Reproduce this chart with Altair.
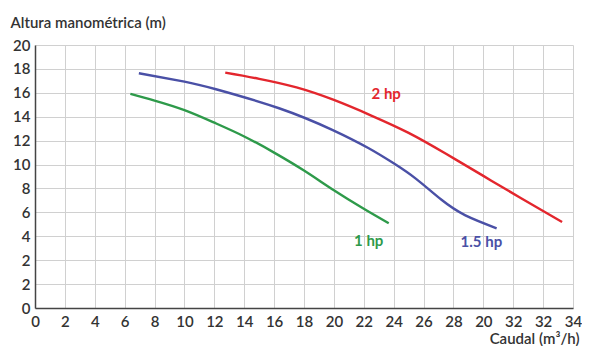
import altair as alt
import pandas as pd

# Curve data (x = caudal m3/h on the drawn scale, y = altura on the drawn scale)
x_1hp = [6.38, 8.0, 10.0, 12.0, 14.0, 16.0, 18.0, 20.0, 22.0, 23.67]
y_1hp = [17.91, 17.35, 16.55, 15.5, 14.35, 13.0, 11.5, 9.85, 8.3, 7.09]

x_15hp = [6.95, 10.0, 12.11, 16.33, 19.89, 22.33, 24.0, 25.5, 27.2, 28.8, 30.89]
y_15hp = [19.64, 18.94, 18.30, 16.71, 14.90, 13.36, 12.1, 10.8, 9.05, 7.75, 6.67]

x_2hp = [12.73, 15.0, 17.5, 20.0, 22.5, 25.0, 27.5, 30.0, 32.5, 35.27]
y_2hp = [19.69, 19.17, 18.45, 17.4, 16.1, 14.65, 12.9, 11.05, 9.2, 7.2]

series_names = ["1 hp", "1.5 hp", "2 hp"]
series_colors = ["#2e9a4a", "#4a50a6", "#e3262d"]

label_x = [22.33, 29.87, 23.5]
label_y = [5.6, 5.52, 17.9]

# Tick labels exactly as printed on the reference
x_tick_labels = ["0", "2", "4", "6", "8", "10", "12", "14", "16", "18", "20",
                 "22", "24", "26", "28", "20", "32", "32", "34"]
y_tick_labels = ["0", "2", "2", "4", "6", "8", "10", "12", "14", "16", "18", "20"]

rows = []
for name, xs, ys in zip(series_names, [x_1hp, x_15hp, x_2hp], [y_1hp, y_15hp, y_2hp]):
    for i, (xv, yv) in enumerate(zip(xs, ys)):
        rows.append({"serie": name, "x": xv, "y": yv, "order": i})
df = pd.DataFrame(rows)
lab = pd.DataFrame({"serie": series_names, "x": label_x, "y": label_y})

x_values = [2 * i for i in range(len(x_tick_labels))]
y_values = [2 * i for i in range(len(y_tick_labels))]
x_expr = "[" + ",".join("'%s'" % s for s in x_tick_labels) + "][datum.value/2]"
y_expr = "[" + ",".join("'%s'" % s for s in y_tick_labels) + "][datum.value/2]"

color = alt.Color("serie:N", scale=alt.Scale(domain=series_names, range=series_colors), legend=None)

x_enc = alt.X("x:Q", scale=alt.Scale(domain=[0, 36], nice=False),
              axis=alt.Axis(values=x_values, labelExpr=x_expr, title="Caudal (m³/h)",
                            labelOverlap=False, tickCount=len(x_values) + 1,
                            titleAnchor="end", titleAlign="right", titleX=544, titleY=30,
                            titleBaseline="middle", labelPadding=6, labelFlush=False))
y_enc = alt.Y("y:Q", scale=alt.Scale(domain=[0, 22], nice=False),
              axis=alt.Axis(values=y_values, labelExpr=y_expr, title="Altura manométrica (m)",
                            labelOverlap=False, tickCount=len(y_values) + 1,
                            titleAngle=0, titleAlign="left", titleX=-25, titleY=-23,
                            titleBaseline="middle", labelPadding=5))

lines = alt.Chart(df).mark_line(strokeWidth=2.4, interpolate="natural").encode(
    x=x_enc, y=y_enc, color=color, order="order:Q", detail="serie:N")

texts = alt.Chart(lab).mark_text(font="Lato", fontSize=15, fontWeight="bold").encode(
    x="x:Q", y="y:Q", text="serie:N", color=color)

chart = alt.layer(lines, texts).properties(
    width=538, height=263,
    autosize=alt.AutoSizeParams(type="none"),
    padding={"left": 27, "top": 37, "right": 9, "bottom": 38},
    background="white",
).configure_view(stroke=None).configure_axis(
    grid=True, gridColor="#d0d0d0", gridWidth=1,
    ticks=False, domainColor="#444444", domainWidth=1.5,
    labelFont="Lato", labelFontSize=15, labelFontWeight=600, labelColor="#333333",
    titleFont="Lato", titleFontSize=15, titleFontWeight=600, titleColor="#333333",
)

chart.save("out.html", embed_options={"renderer": "svg", "actions": False})
